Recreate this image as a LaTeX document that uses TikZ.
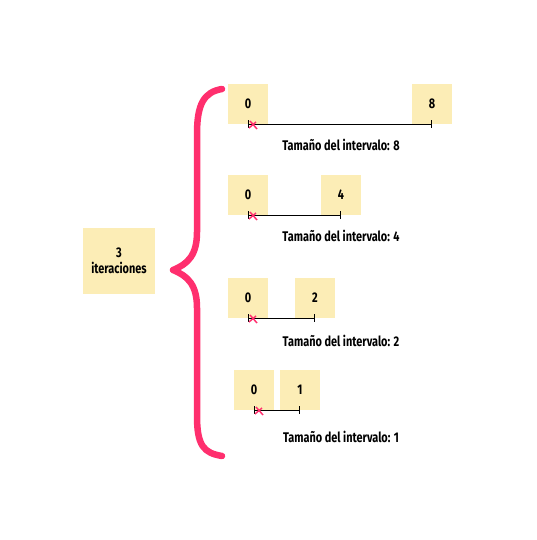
\documentclass[tikz,border=0pt]{standalone}
\usepackage{fontspec}
\setmainfont{Fira Sans}[FakeStretch=0.78]
\usetikzlibrary{calc}
\definecolor{cellfill}{HTML}{FCEDB6}
\definecolor{bracepink}{HTML}{FF2F6E}
\def\cellsize{40pt}
\def\bracewidth{6.5pt}
\tikzset{
	% labels
	label/.style={
		font=\bfseries\fontsize{14}{16}\selectfont,
		align=center,
	},
	% number cells
	cell/.style={
		label,
		fill=cellfill,
		shape=rectangle,
		minimum size=\cellsize,
		inner sep=0,
		outer sep=0,
	},
	% iterations box
	summary/.style={
		cell,
		minimum width=72pt,
		minimum height=66pt,
	},
	% interval
	interval/.style={
		thick,
		|-|,
	},
	% pointer mark
	mark_cross/.style={
		draw=bracepink,
		line width=1.5pt,
	},
	% brace
	big_brace/.style={
		draw=bracepink,
		line width=\bracewidth,
		line cap=round,
		line join=round,
	}
}
\begin{document}
\begin{tikzpicture}[x=1pt,y=-1pt]
		\useasboundingbox (0,0) rectangle (536,540);
		% Iterations
		\node[summary] (iterations) at (119,261) {3\\iteraciones};
		% Brace
		\draw[big_brace] (222,89) .. controls (204,92) and (197,104) .. (197,134)
						-- (197,232) .. controls (197,255) and (188,264) .. (173,270)
						.. controls (188,276) and (197,285) .. (197,308)
						-- (197,416) .. controls (197,446) and (204,453) .. (222,456);
		% Intervals
		\foreach \n/\y/\xa/\xb/\ty [count=\i] in {8/104/248/432/145, 4/195/248/341/236, 2/298/248/315/341, 1/390/254/300/437} {
			\node[cell] (zero\i) at (\xa,\y) {0};
			\node[cell] (end\i) at (\xb,\y) {\n};
			\draw[interval] (zero\i.south) -- (end\i.south);
			\draw[mark_cross] ($(zero\i.south)+(2,-3)$) -- ($(zero\i.south)+(9,5)$)
							($(zero\i.south)+(1,4)$) -- ($(zero\i.south)+(8,-2)$);
			\node[label] (size\i) at (341,\ty) {Tamaño del intervalo: \n};
		}
	\end{tikzpicture}
\end{document}
